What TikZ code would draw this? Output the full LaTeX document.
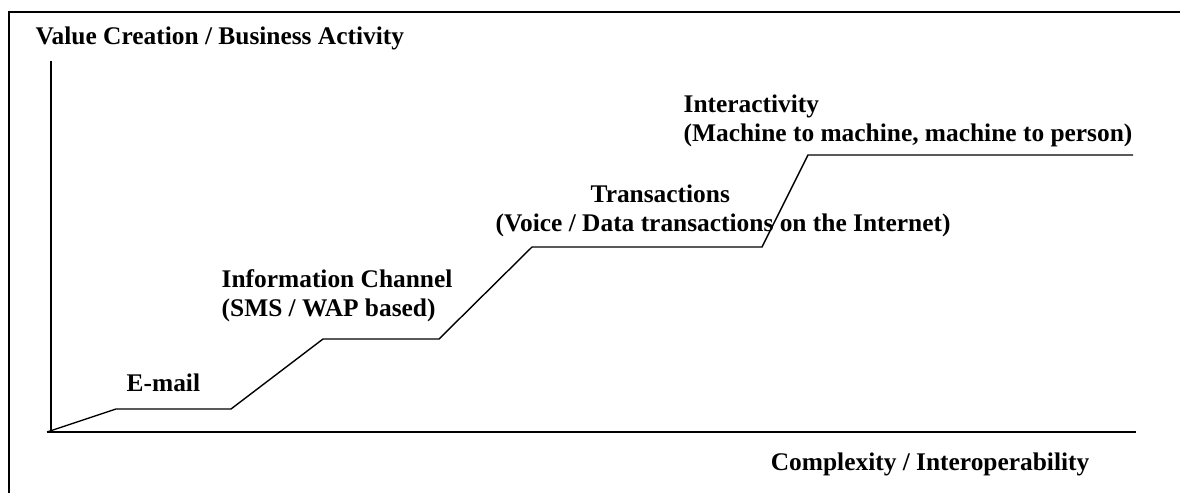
\documentclass[tikz,border=0pt]{standalone}
\usepackage{fontspec}
\setmainfont{Liberation Serif}
\usepackage{tikz}
\usetikzlibrary{positioning}

\begin{document}
\begin{tikzpicture}[
    x=1pt, y=-1pt, line width=1.4pt, line join=miter,
    lbl/.style={font=\bfseries\fontsize{25.4}{29}\selectfont, inner sep=0pt, align=left},
    axis/.style={line width=1.8pt}
]
    \useasboundingbox (0,0) rectangle (1180,493);

    % frame
    \draw[line width=2.2pt] (9,493) -- (9,12) -- (1180,12);

    % axes
    \coordinate (top) at (51,61);
    \coordinate (orig) at (47,432);
    \coordinate (right) at (1136,432);
    \draw[axis] (top) -- (51,432);
    \draw[axis] (orig) -- (right);

    % step curve
    \coordinate (a1) at (116,409);
    \coordinate (a2) at (231,409);
    \coordinate (b1) at (323,339);
    \coordinate (b2) at (439,339);
    \coordinate (c1) at (532,247);
    \coordinate (c2) at (762,247);
    \coordinate (d1) at (808,155);
    \coordinate (d2) at (1133,155);
    \draw (orig) -- (a1) -- (a2) -- (b1) -- (b2) -- (c1) -- (c2) -- (d1) -- (d2);

    % labels (base = baseline of the last line)
    \node[lbl, anchor=base west] (value) at (35,44) {Value Creation / Business Activity};
    \node[lbl, anchor=base west] (email) at (126,391) {E-mail};
    \node[lbl, anchor=base west] (info) at (221,316) {Information Channel\\(SMS / WAP based)};
    \node[lbl, anchor=base west] (trans) at (495,231) {\hspace*{95pt}Transactions\\(Voice / Data transactions on the Internet)};
    \node[lbl, anchor=base west] (inter) at (683,141) {Interactivity\\(Machine to machine, machine to person)};
    \node[lbl, anchor=base east] (complex) at (1090,470) {Complexity / Interoperability};
\end{tikzpicture}
\end{document}
